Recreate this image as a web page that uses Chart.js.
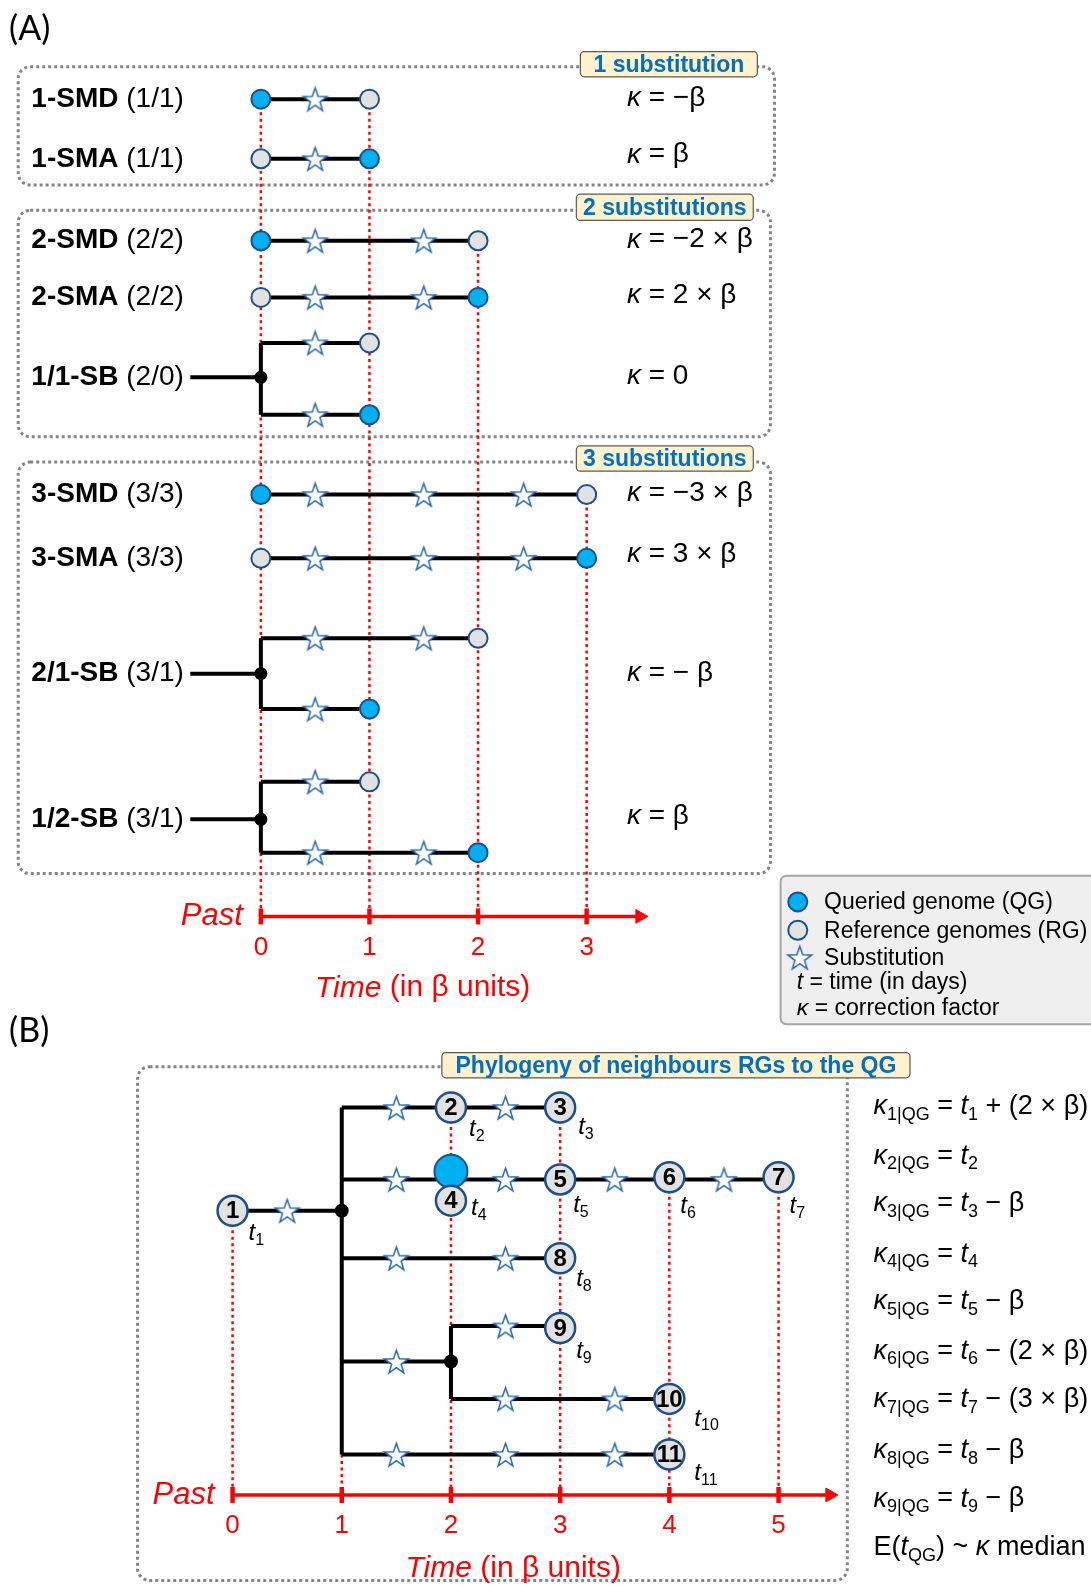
<!DOCTYPE html>
<html>
<head>
<meta charset="utf-8">
<script src="https://cdn.jsdelivr.net/npm/chart.js@4.4.0/dist/chart.umd.min.js"></script>
<style>
  html, body { margin: 0; padding: 0; background: #fff; }
  #wrap { width: 1091px; height: 1586px; position: relative; }
</style>
</head>
<body>
<div id="wrap"><canvas id="fig"></canvas></div>
<script>
// ---------- panel A : substitution scenarios ----------
const rowNamesA  = ['1-SMD', '1-SMA', '2-SMD', '2-SMA', '1/1-SB', '3-SMD', '3-SMA', '2/1-SB', '1/2-SB'];
const rowCountsA = ['(1/1)', '(1/1)', '(2/2)', '(2/2)', '(2/0)', '(3/3)', '(3/3)', '(3/1)', '(3/1)'];
const rowKappaA  = ['= −β', '= β', '= −2 × β', '= 2 × β', '= 0', '= −3 × β', '= 3 × β', '= − β', '= β'];
const rowLaneA   = [98, 157, 238, 294, 373, 489, 552, 666, 810];
const kappaLaneA = [97, 153, 237, 292, 372, 488, 548, 666, 807];

const branchLaneA  = [98, 157, 238, 294, 339, 410, 489, 552, 631, 701, 773, 843];
const branchRootA  = ['QG', 'RG', 'QG', 'RG', '', '', 'QG', 'RG', '', '', '', ''];
const branchEndA   = [1, 1, 2, 2, 1, 1, 3, 3, 2, 1, 1, 2];
const branchTipA   = ['RG', 'QG', 'RG', 'QG', 'RG', 'QG', 'RG', 'QG', 'RG', 'QG', 'RG', 'QG'];
const branchStarsA = [[0.5], [0.5], [0.5, 1.5], [0.5, 1.5], [0.5], [0.5],
                      [0.5, 1.5, 2.42], [0.5, 1.5, 2.42], [0.5, 1.5], [0.5], [0.5], [0.5, 1.5]];
const splitLaneA   = [373, 666, 810];
const splitTopA    = [339, 631, 773];
const splitBottomA = [410, 701, 843];
const stemStartA   = -0.65;
const ticksA       = [0, 1, 2, 3];
const guideTopA    = [98, 98, 238, 489];
const axisLaneA    = 906;
const axisEndA     = 3.56;

// ---------- panel B : phylogeny ----------
const nodeIdB    = ['1', '2', '3', '4', '5', '6', '7', '8', '9', '10', '11'];
const nodeTimeB  = [0, 2, 3, 2, 3, 4, 5, 3, 3, 4, 4];
const nodeLaneB  = [1197, 1095, 1095, 1187, 1166, 1164, 1164, 1244, 1313, 1383, 1438];
const qgTimeB    = 2;
const qgLaneB    = 1158;
const branchLaneB  = [1197, 1095, 1166, 1244, 1346, 1311, 1383, 1438];
const branchFromB  = [0, 1, 1, 1, 1, 2, 2, 1];
const branchToB    = [1, 3, 5, 3, 2, 3, 4, 4];
const branchStarsB = [[0.5], [1.5, 2.5], [1.5, 2.5, 3.5, 4.5], [1.5, 2.5], [1.5], [2.5], [2.5, 3.5], [1.5, 2.5, 3.5]];
const splitTimeB   = [1, 2];
const splitLaneB   = [1197, 1346];
const splitTopB    = [1095, 1311];
const splitBottomB = [1438, 1383];
const ticksB       = [0, 1, 2, 3, 4, 5];
const guideTopB    = [1197, 1438, 1095, 1095, 1164, 1164];
const axisLaneB    = 1478;
const axisEndB     = 5.54;

const kappaRhsB  = ['+ (2 × β)', '', '− β', '', '− β', '− (2 × β)', '− (3 × β)', '− β', '− β'];
const eqLaneB    = [1094, 1143, 1190, 1240, 1287, 1336, 1384, 1434, 1482, 1530];

// ---------- layout / style ----------
const S = 1091 / 1079;
const FONT = '"Liberation Sans", Arial, sans-serif';
const BLUE = '#00b0f0', GREY = '#e2e2e2', EDGE = '#1f4e8c', RED = '#ff0000';
const tOffsetB = [[16, 23], [18, 22], [18, 20], [20, 8], [13, 26], [11, 29], [11, 29], [16, 21], [16, 23], [25, 20], [25, 19]];

function makeStar(R, r) {
    const c = document.createElement('canvas');
    const size = Math.ceil(R * 2 + 4);
    c.width = c.height = size;
    const g = c.getContext('2d');
    g.translate(size / 2, size / 2 + R * 0.1);
    g.beginPath();
    for (let i = 0; i < 10; i++) {
        const rad = i % 2 ? r : R;
        const a = -Math.PI / 2 + i * Math.PI / 5;
        g.lineTo(rad * Math.cos(a), rad * Math.sin(a));
    }
    g.closePath();
    g.fillStyle = '#fff';
    g.fill();
    g.lineWidth = 1.5;
    g.strokeStyle = '#2367ad';
    g.stroke();
    return c;
}
const starImg = makeStar(12.5, 5);

// ---------- datasets ----------
const datasets = [];

function line(axis, pts, color, width, order, dash) {
    datasets.push({
        xAxisID: axis, yAxisID: 'y', data: pts, showLine: true,
        borderColor: color, borderWidth: width, borderDash: dash || [],
        pointRadius: 0, order: order, tension: 0
    });
}
function points(axis, pts, opts) {
    datasets.push(Object.assign({ xAxisID: axis, yAxisID: 'y', data: pts, showLine: false }, opts));
}

// guides (red dotted)
ticksA.forEach((t, i) => line('xa', [{ x: t, y: guideTopA[i] }, { x: t, y: axisLaneA }], RED, 2.5, 9, [3, 3.5]));
ticksB.forEach((t, i) => line('xb', [{ x: t, y: guideTopB[i] }, { x: t, y: axisLaneB }], RED, 2.5, 9, [3, 3.5]));

// branches panel A
branchLaneA.forEach((lane, i) => line('xa', [{ x: 0, y: lane }, { x: branchEndA[i], y: lane }], '#000', 4, 6));
splitLaneA.forEach((lane, i) => {
    line('xa', [{ x: stemStartA, y: lane }, { x: 0, y: lane }], '#000', 4, 6);
    line('xa', [{ x: 0, y: splitTopA[i] }, { x: 0, y: splitBottomA[i] }], '#000', 4, 6);
});
// branches panel B
branchLaneB.forEach((lane, i) => line('xb', [{ x: branchFromB[i], y: lane }, { x: branchToB[i], y: lane }], '#000', 4, 6));
splitTimeB.forEach((t, i) => line('xb', [{ x: t, y: splitTopB[i] }, { x: t, y: splitBottomB[i] }], '#000', 4, 6));

// axes
line('xa', [{ x: 0, y: axisLaneA }, { x: axisEndA - 0.08, y: axisLaneA }], RED, 3.5, 1);
line('xb', [{ x: 0, y: axisLaneB }, { x: axisEndB - 0.08, y: axisLaneB }], RED, 3.5, 1);
points('xa', ticksA.map(t => ({ x: t, y: axisLaneA })), { pointStyle: 'line', rotation: 90, pointRadius: 8, borderColor: RED, borderWidth: 4.5, order: 1 });
points('xb', ticksB.map(t => ({ x: t, y: axisLaneB })), { pointStyle: 'line', rotation: 90, pointRadius: 8, borderColor: RED, borderWidth: 4.5, order: 1 });
points('xa', [{ x: axisEndA - 0.07, y: axisLaneA }], { pointStyle: 'triangle', rotation: 90, pointRadius: 8, backgroundColor: RED, borderColor: RED, borderWidth: 1, order: 1 });
points('xb', [{ x: axisEndB - 0.07, y: axisLaneB }], { pointStyle: 'triangle', rotation: 90, pointRadius: 8, backgroundColor: RED, borderColor: RED, borderWidth: 1, order: 1 });

// stars
const starsA = [];
branchStarsA.forEach((st, i) => st.forEach(t => starsA.push({ x: t, y: branchLaneA[i] })));
points('xa', starsA, { pointStyle: starImg, pointRadius: 10, order: 4 });
const starsB = [];
branchStarsB.forEach((st, i) => st.forEach(t => starsB.push({ x: t, y: branchLaneB[i] })));
points('xb', starsB, { pointStyle: starImg, pointRadius: 10, order: 4 });

// split dots
points('xa', splitLaneA.map(l => ({ x: 0, y: l })), { pointStyle: 'circle', pointRadius: 6.5, backgroundColor: '#000', borderColor: '#000', borderWidth: 0, order: 3 });
points('xb', splitLaneB.map((l, i) => ({ x: splitTimeB[i], y: l })), { pointStyle: 'circle', pointRadius: 7, backgroundColor: '#000', borderColor: '#000', borderWidth: 0, order: 3 });

// genome nodes panel A
const qgA = [], rgA = [];
branchLaneA.forEach((lane, i) => {
    if (branchRootA[i] === 'QG') qgA.push({ x: 0, y: lane });
    if (branchRootA[i] === 'RG') rgA.push({ x: 0, y: lane });
    (branchTipA[i] === 'QG' ? qgA : rgA).push({ x: branchEndA[i], y: lane });
});
points('xa', qgA, { pointStyle: 'circle', pointRadius: 9.5, backgroundColor: BLUE, borderColor: EDGE, borderWidth: 2, order: 2 });
points('xa', rgA, { pointStyle: 'circle', pointRadius: 9.5, backgroundColor: GREY, borderColor: EDGE, borderWidth: 2, order: 2 });

// genome nodes panel B
points('xb', [{ x: qgTimeB, y: qgLaneB }], { pointStyle: 'circle', pointRadius: 16.5, backgroundColor: BLUE, borderColor: EDGE, borderWidth: 2, order: 2.5 });
points('xb', nodeTimeB.map((t, i) => ({ x: t, y: nodeLaneB[i] })), { pointStyle: 'circle', pointRadius: 15, backgroundColor: GREY, borderColor: EDGE, borderWidth: 2.5, order: 2 });

// ---------- text helpers ----------
function rich(ctx, x, y, parts, size, color, align) {
    ctx.fillStyle = color || '#000';
    ctx.textBaseline = 'middle';
    ctx.textAlign = 'left';
    const fontOf = (st) => {
        if (st === 'b') return 'bold ' + size + 'px ' + FONT;
        if (st === 'i') return 'italic ' + size + 'px ' + FONT;
        if (st === 'sub') return Math.round(size * 0.68) + 'px ' + FONT;
        return size + 'px ' + FONT;
    };
    let total = 0;
    parts.forEach(p => { ctx.font = fontOf(p[1]); total += ctx.measureText(p[0]).width; });
    let cx = x;
    if (align === 'center') cx = x - total / 2;
    if (align === 'right') cx = x - total;
    parts.forEach(p => {
        ctx.font = fontOf(p[1]);
        ctx.fillText(p[0], cx, p[1] === 'sub' ? y + size * 0.3 : y);
        cx += ctx.measureText(p[0]).width;
    });
}

function badge(ctx, x0, y0, x1, y1, text) {
    ctx.save();
    ctx.beginPath();
    ctx.roundRect(x0 * S, y0 * S, (x1 - x0) * S, (y1 - y0) * S, 4);
    ctx.fillStyle = '#fff2cc';
    ctx.fill();
    ctx.lineWidth = 1.2;
    ctx.strokeStyle = '#5a5a5a';
    ctx.stroke();
    ctx.restore();
    rich(ctx, (x0 + x1) / 2 * S, (y0 + y1) / 2 * S + 1, [[text, 'b']], 23, '#0070c0', 'center');
}

const figurePlugin = {
    id: 'figure',
    beforeDatasetsDraw(chart) {
        const ctx = chart.ctx;
        ctx.save();
        ctx.setLineDash([3, 3]);
        ctx.lineWidth = 3;
        ctx.strokeStyle = '#858585';
        [[18, 66, 766, 183], [18, 208, 762, 432], [18, 457, 762, 864], [136, 1055, 838, 1563]].forEach(b => {
            ctx.beginPath();
            ctx.roundRect(b[0] * S, b[1] * S, (b[2] - b[0]) * S, (b[3] - b[1]) * S, 12);
            ctx.stroke();
        });
        ctx.restore();
    },
    afterDatasetsDraw(chart) {
        const ctx = chart.ctx;
        const xa = chart.scales.xa, xb = chart.scales.xb, y = chart.scales.y;
        ctx.save();

        // panel letters
        ctx.font = '34px Lato, "Open Sans", sans-serif';
        ctx.fillStyle = '#000';
        ctx.textBaseline = 'middle';
        ctx.fillText('(A)', 9 * S, 29 * S);
        ctx.fillText('(B)', 9 * S, 1020 * S);

        // panel A rows
        rowNamesA.forEach((name, i) => {
            rich(ctx, 31 * S, y.getPixelForValue(rowLaneA[i]), [[name, 'b'], [' ' + rowCountsA[i], '']], 28);
            rich(ctx, 620 * S, y.getPixelForValue(kappaLaneA[i]), [['κ', 'i'], [' ' + rowKappaA[i], '']], 28);
        });

        badge(ctx, 574, 51, 749, 76, '1 substitution');
        badge(ctx, 570, 192, 745, 218, '2 substitutions');
        badge(ctx, 570, 441, 745, 466, '3 substitutions');
        badge(ctx, 437, 1041, 900, 1066, 'Phylogeny of neighbours RGs to the QG');

        // axes text
        ticksA.forEach(t => rich(ctx, xa.getPixelForValue(t), y.getPixelForValue(937), [[String(t), '']], 26, RED, 'center'));
        ticksB.forEach(t => rich(ctx, xb.getPixelForValue(t), y.getPixelForValue(1509), [[String(t), '']], 26, RED, 'center'));
        rich(ctx, xa.getPixelForValue(0) - 18, y.getPixelForValue(axisLaneA), [['Past', 'i']], 31, RED, 'right');
        rich(ctx, xb.getPixelForValue(0) - 18, y.getPixelForValue(axisLaneB), [['Past', 'i']], 31, RED, 'right');
        rich(ctx, xa.getPixelForValue(1.49), y.getPixelForValue(977), [['Time', 'i'], [' (in β units)', '']], 30, RED, 'center');
        rich(ctx, xb.getPixelForValue(2.57), y.getPixelForValue(1551), [['Time', 'i'], [' (in β units)', '']], 30, RED, 'center');

        // node numbers and times
        nodeIdB.forEach((id, i) => {
            const px = xb.getPixelForValue(nodeTimeB[i]), py = y.getPixelForValue(nodeLaneB[i]);
            rich(ctx, px, py + 1, [[id, 'b']], 24, '#000', 'center');
            rich(ctx, px + tOffsetB[i][0], py + tOffsetB[i][1], [['t', 'i'], [id, 'sub']], 24);
        });

        // equations
        kappaRhsB.forEach((rhs, i) => {
            const k = String(i + 1);
            const parts = [['κ', 'i'], [k + '|QG', 'sub'], [' = ', ''], ['t', 'i'], [k, 'sub']];
            if (rhs) parts.push([' ' + rhs, '']);
            rich(ctx, 864 * S, y.getPixelForValue(eqLaneB[i]), parts, 27);
        });
        rich(ctx, 864 * S, y.getPixelForValue(eqLaneB[9]), [['E(', ''], ['t', 'i'], ['QG', 'sub'], [') ~ ', ''], ['κ', 'i'], [' median', '']], 27);

        // legend
        ctx.beginPath();
        ctx.roundRect(772 * S, 866 * S, 330 * S, 147 * S, 6);
        ctx.fillStyle = '#efefef';
        ctx.fill();
        ctx.lineWidth = 2;
        ctx.strokeStyle = '#a6a6a6';
        ctx.stroke();
        [[BLUE, 892], [GREY, 920]].forEach(c => {
            ctx.beginPath();
            ctx.arc(789 * S, c[1] * S, 9.5, 0, Math.PI * 2);
            ctx.fillStyle = c[0];
            ctx.fill();
            ctx.lineWidth = 2;
            ctx.strokeStyle = EDGE;
            ctx.stroke();
        });
        ctx.drawImage(starImg, 791 * S - starImg.width / 2, 947 * S - starImg.height / 2);
        rich(ctx, 815 * S, 893 * S, [['Queried genome (QG)', '']], 23);
        rich(ctx, 815 * S, 921 * S, [['Reference genomes (RG)', '']], 23);
        rich(ctx, 815 * S, 948 * S, [['Substitution', '']], 23);
        rich(ctx, 788 * S, 972 * S, [['t', 'i'], [' = time (in days)', '']], 23);
        rich(ctx, 788 * S, 998 * S, [['κ', 'i'], [' = correction factor', '']], 23);

        ctx.restore();
    }
};

new Chart(document.getElementById('fig'), {
    type: 'scatter',
    data: { datasets: datasets },
    options: {
        responsive: true,
        maintainAspectRatio: false,
        animation: false,
        events: [],
        layout: { padding: 0, autoPadding: false },
        plugins: { legend: { display: false }, tooltip: { enabled: false } },
        scales: {
            xa: { type: 'linear', display: false, min: -258 / 107.4, max: (1079 - 258) / 107.4 },
            xb: { type: 'linear', display: false, min: -230 / 108, max: (1079 - 230) / 108 },
            y: { type: 'linear', display: false, reverse: true, min: 0, max: 1568 }
        }
    },
    plugins: [figurePlugin]
});
</script>
</body>
</html>
